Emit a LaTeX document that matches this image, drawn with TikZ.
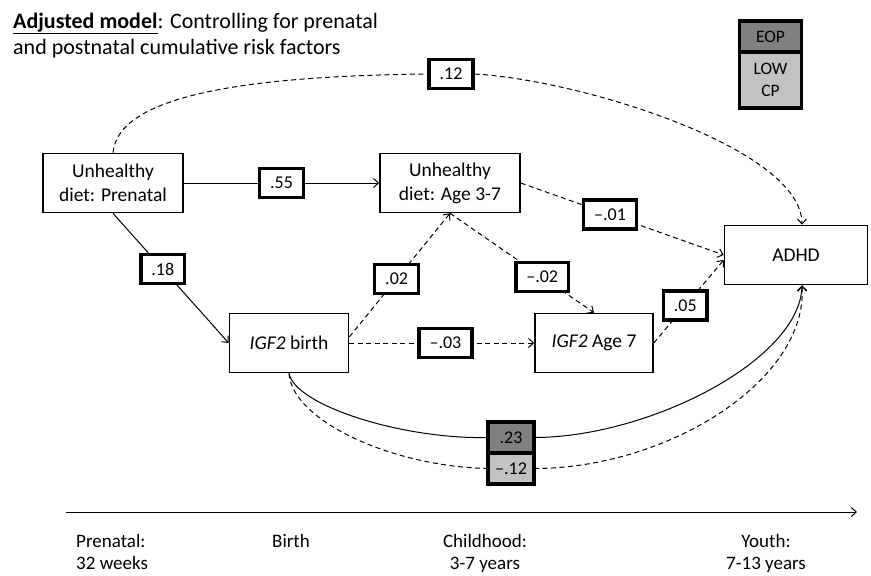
\documentclass[tikz,border=0pt]{standalone}
\usepackage{fontspec}
\setmainfont{Carlito}
\usetikzlibrary{arrows.meta}
\definecolor{eopgrey}{RGB}{128,128,128}
\definecolor{lowgrey}{RGB}{194,194,194}
\tikzstyle{var} = [rectangle, minimum width=140pt, minimum height=59pt, draw=black, line width=1.6pt, fill=white, align=center, font=\fontsize{19.5}{24}\selectfont]
\tikzstyle{coef} = [rectangle, solid, minimum height=29pt, inner xsep=10.5pt, draw=black, line width=3.5pt, fill=white, font=\fontsize{18}{20}\selectfont]
\tikzstyle{legend} = [rectangle, minimum width=62pt, outer sep=0pt, draw=black, line width=3.5pt, align=center, font=\fontsize{17.5}{22}\selectfont]
\tikzstyle{arrow} = [line width=1pt,->,>={Straight Barb[length=5pt,width=9pt]}]
\tikzstyle{dashline} = [line width=1pt, dash pattern=on 5pt off 3.5pt]
\tikzstyle{dasharrow} = [arrow, dash pattern=on 5pt off 3.5pt]
\tikzstyle{timelabel} = [inner sep=0pt, align=center, font=\fontsize{19}{22}\selectfont]
\newcommand{\gene}[1]{\textit{#1}}

\begin{document}
\begin{tikzpicture}[x=1pt,y=-1pt]
\useasboundingbox (0,0) rectangle (871,576);
\node (title) [anchor=north west, inner sep=0pt, align=left, font=\fontsize{22}{26}\selectfont] at (13,12.5)
{\underline{\textbf{Adjusted model}}: Controlling for prenatal\\and postnatal cumulative risk factors};
% legend
\node (eop) [legend, fill=eopgrey, minimum height=31pt] at (770.5,36.5) {EOP};
\node (lowcp) [legend, fill=lowgrey, minimum height=56pt, anchor=north] at (eop.south) {LOW\\CP};
% variables
\node (pre) [var] at (113,183) {Unhealthy\\diet: Prenatal};
\node (age37) [var] at (450,183) {Unhealthy\\diet: Age 3-7};
\node (igfb) [var, minimum width=119pt] at (289,343) {\gene{IGF2} birth};
\node (igf7) [var, minimum width=118pt] at (594,343) {\gene{IGF2} Age 7};
\node (adhd) [var, minimum width=143pt] at (796,255) {ADHD};
% coefficients that are not on a straight path
\node (c12) [coef] at (451,74) {.12};
\node (c23) [coef, fill=eopgrey, outer sep=0pt, minimum width=46pt, inner xsep=4pt, minimum height=31pt] at (511,437.5) {.23};
\node (cm12) [coef, fill=lowgrey, outer sep=0pt, minimum width=46pt, inner xsep=4pt, minimum height=31pt, anchor=north] at (c23.south) {--.12};
% paths
\draw[dashline] (pre.north) .. controls +(5,-58) and +(-178,2) .. (c12.west);
\draw[dasharrow] (c12.east) .. controls +(107,6) and +(0,-76) .. ([xshift=6pt]adhd.north);
\draw[arrow] (pre) -- node[coef] (c55) {.55} (age37);
\draw[arrow] (pre.south) -- node[coef, pos=0.43] (c18) {.18} (igfb.west);
\draw[dasharrow] ([yshift=6pt]igfb.east) -- node[coef, pos=0.47] (c02) {.02} (age37.south);
\draw[dasharrow] (age37.south) -- node[coef, pos=0.64] (cm02) {--.02} (igf7.north);
\draw[dasharrow] (age37.east) -- node[coef, pos=0.44] (cm01) {--.01} (adhd.west);
\draw[dasharrow] (igfb) -- node[coef, pos=0.52] (cm03) {--.03} (igf7);
\draw[dasharrow] (igf7.east) -- node[coef, pos=0.45] (c05) {.05} ([yshift=-5pt]adhd.west);
\draw[line width=1pt] (igfb.south) .. controls +(6,32) and +(-86,2) .. (c23.west);
\draw[arrow] (c23.east) .. controls +(114,0) and +(-2,75) .. ([xshift=6pt]adhd.south);
\draw[dashline] (igfb.south) .. controls +(3,47) and +(-97,-2) .. (cm12.west);
\draw[dasharrow] (cm12.east) .. controls +(134,0) and +(6,95) .. ([xshift=6pt]adhd.south);
% time line
\coordinate (tstart) at (66,512);
\coordinate (tend) at (857,512);
\draw[arrow] (tstart) -- (tend);
\node (tpre) [timelabel, anchor=north west, align=left] at (76,534) {Prenatal:\\32 weeks};
\node (tbirth) [timelabel, anchor=north] at (291,534) {Birth};
\node (tchild) [timelabel, anchor=north] at (485,534) {Childhood:\\3-7 years};
\node (tyouth) [timelabel, anchor=north] at (766,534) {Youth:\\7-13 years};
\end{tikzpicture}
\end{document}
